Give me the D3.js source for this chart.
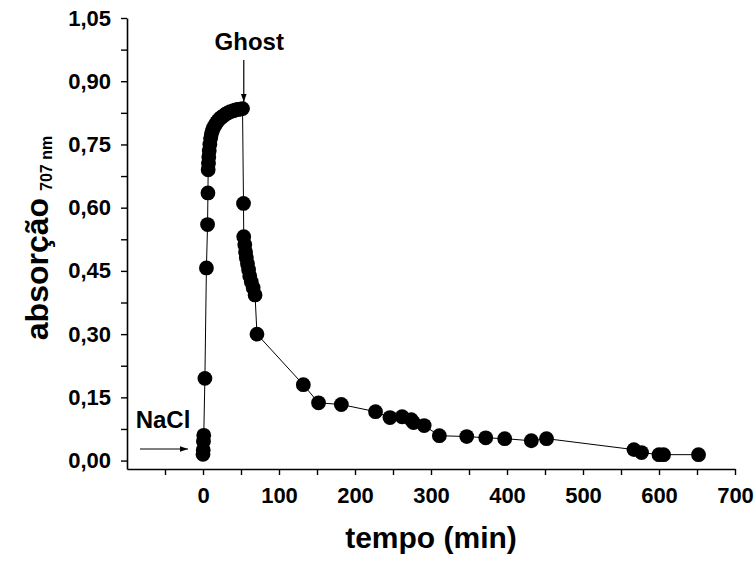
<!DOCTYPE html>
<html>
<head>
<meta charset="utf-8">
<script src="https://cdn.jsdelivr.net/npm/d3@7"></script>
<style>
  html, body { margin: 0; padding: 0; background: #fff; }
  svg { display: block; }
  text { font-family: "Liberation Sans", Arial, Helvetica, sans-serif; font-weight: bold; fill: #000; }
</style>
</head>
<body>
<svg id="chart" width="756" height="561"></svg>
<script>
// ---- data ----
const timeMin = [
  0, 0.3, 0.6, 1.0, 2.5, 4.5, 6.0, 6.5,
  6.8, 7.2, 7.6, 8.2, 9, 10, 11, 12.5, 14, 16, 18, 20, 22, 24, 27, 30, 33, 36, 40, 43, 46, 49, 52,
  53.3, 53.6, 55, 56, 57, 58.5, 60, 61.5, 63.5, 66, 68.5, 71,
  132, 152, 182, 227, 246, 262, 274, 277, 291, 311, 347, 372, 397, 432, 452, 567, 577, 600, 606, 652
];
const absorbance = [
  0.015, 0.025, 0.045, 0.06, 0.195, 0.457, 0.56, 0.635,
  0.69, 0.705, 0.72, 0.735, 0.75, 0.765, 0.775, 0.783, 0.79, 0.796, 0.802, 0.807, 0.811, 0.814, 0.818, 0.822, 0.825, 0.828, 0.830, 0.832, 0.833, 0.834, 0.835,
  0.61, 0.531, 0.512, 0.495, 0.481, 0.467, 0.453, 0.438, 0.424, 0.41, 0.393, 0.30,
  0.18, 0.137, 0.133, 0.116, 0.102, 0.104, 0.097, 0.09, 0.083, 0.059, 0.057, 0.054, 0.052, 0.047, 0.052, 0.026, 0.019, 0.014, 0.014, 0.014
];
const xMajorTicks = [0, 100, 200, 300, 400, 500, 600, 700];
const xMinorTicks = [-50, 50, 150, 250, 350, 450, 550, 650];
const yMajorTicks = [0, 0.15, 0.30, 0.45, 0.60, 0.75, 0.90, 1.05];
const yMinorTicks = [0.075, 0.225, 0.375, 0.525, 0.675, 0.825, 0.975];
const xTitle = "tempo (min)";
const yTitle = "absorção";
const ySub = "707 nm";
const annotations = [
  { label: "Ghost", t: 53, v: 0.836 },
  { label: "NaCl", t: 0, v: 0.03 }
];

// ---- layout ----
const svg = d3.select("#chart");
const x = d3.scaleLinear().domain([-100, 700]).range([127, 735]);
const y = d3.scaleLinear().domain([-0.02, 1.05]).range([469, 18]);
const fmt = v => d3.format(".2f")(v).replace(".", ",");

// defs: arrow marker
svg.append("defs").append("marker")
  .attr("id", "arrow").attr("viewBox", "0 0 10 10")
  .attr("refX", 10).attr("refY", 5)
  .attr("markerWidth", 8).attr("markerHeight", 8)
  .attr("markerUnits", "userSpaceOnUse")
  .attr("orient", "auto")
  .append("path").attr("d", "M0,1.5 L10,5 L0,8.5 Z").attr("fill", "#000");

// axes
const gx = svg.append("g").attr("transform", `translate(0,${y.range()[0]})`);
gx.call(d3.axisBottom(x).tickValues(xMajorTicks).tickSize(6).tickSizeOuter(0).tickPadding(10).tickFormat(d3.format("d")));
const gxm = svg.append("g").attr("transform", `translate(0,${y.range()[0]})`);
gxm.call(d3.axisBottom(x).tickValues(xMinorTicks).tickSize(6).tickSizeOuter(0).tickFormat(""));
gxm.select(".domain").remove();

const gy = svg.append("g").attr("transform", `translate(${x.range()[0]},0)`);
gy.call(d3.axisLeft(y).tickValues(yMajorTicks).tickSize(6).tickSizeOuter(0).tickPadding(10).tickFormat(fmt));
const gym = svg.append("g").attr("transform", `translate(${x.range()[0]},0)`);
gym.call(d3.axisLeft(y).tickValues(yMinorTicks).tickSize(6).tickSizeOuter(0).tickFormat(""));
gym.select(".domain").remove();

svg.selectAll(".domain").attr("stroke", "#000").attr("stroke-width", 1.6);
svg.selectAll(".tick line").attr("stroke", "#000").attr("stroke-width", 1.4);
gx.selectAll(".tick text").attr("font-size", 22).attr("font-family", "Liberation Sans, Arial, sans-serif").attr("font-weight", "bold").attr("dy", "0.82em");
gy.selectAll(".tick text").attr("font-size", 22).attr("font-family", "Liberation Sans, Arial, sans-serif").attr("font-weight", "bold");

// axis titles
svg.append("text")
  .attr("x", (x.range()[0] + x.range()[1]) / 2).attr("y", 548)
  .attr("text-anchor", "middle").attr("font-size", 30)
  .text(xTitle);

const yt = svg.append("text")
  .attr("transform", "translate(48,238) rotate(-90)")
  .attr("text-anchor", "middle");
yt.append("tspan").attr("font-size", 32).text(yTitle);
yt.append("tspan").attr("font-size", 16).attr("dx", 7).attr("dy", 4).text(ySub);

// data line + markers
const pts = timeMin.map((t, i) => [t, absorbance[i]]);
svg.append("path")
  .datum(pts)
  .attr("fill", "none").attr("stroke", "#000").attr("stroke-width", 1)
  .attr("d", d3.line().x(d => x(d[0])).y(d => y(d[1])));
svg.append("g").selectAll("circle").data(pts).join("circle")
  .attr("cx", d => x(d[0])).attr("cy", d => y(d[1])).attr("r", 7.4)
  .attr("fill", "#000");

// annotations
const ghost = annotations[0];
svg.append("text").attr("x", x(ghost.t) + 6).attr("y", 50)
  .attr("text-anchor", "middle").attr("font-size", 24).text(ghost.label);
svg.append("line")
  .attr("x1", x(ghost.t) + 0.5).attr("x2", x(ghost.t) + 0.5)
  .attr("y1", 60).attr("y2", 102)
  .attr("stroke", "#000").attr("stroke-width", 1.2).attr("marker-end", "url(#arrow)");

const nacl = annotations[1];
svg.append("text").attr("x", 163).attr("y", 428)
  .attr("text-anchor", "middle").attr("font-size", 24).text(nacl.label);
svg.append("line")
  .attr("x1", 140).attr("x2", x(nacl.t) - 15)
  .attr("y1", 449).attr("y2", 449)
  .attr("stroke", "#000").attr("stroke-width", 1.2).attr("marker-end", "url(#arrow)");
</script>
</body>
</html>
